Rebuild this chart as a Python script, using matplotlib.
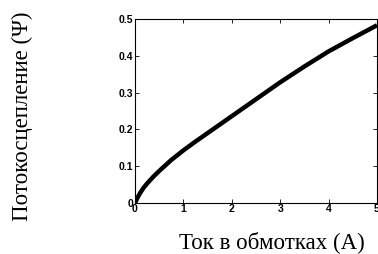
import matplotlib
matplotlib.use("Agg")
import matplotlib.pyplot as plt

current = [0, 0.05, 0.1, 0.175, 0.25, 0.375, 0.5, 0.75, 1, 1.25, 1.5, 2, 2.5, 3, 3.5, 4, 4.5, 5]
flux = [0, 0.014, 0.026, 0.041, 0.053, 0.071, 0.087, 0.117, 0.143, 0.167, 0.19, 0.236, 0.282,
        0.328, 0.371, 0.412, 0.448, 0.483]
xticks = [0, 1, 2, 3, 4, 5]
yticks = [0, 0.1, 0.2, 0.3, 0.4, 0.5]

fig = plt.figure(figsize=(3.78, 2.54), dpi=100)
ax = fig.add_axes([135 / 378, 51 / 254, 242 / 378, 184 / 254])
ax.plot(current, flux, color="black", linewidth=3.2, solid_capstyle="butt")
ax.set_xlim(0, 5)
ax.set_ylim(0, 0.5)
ax.set_xticks(xticks)
ax.set_yticks(yticks)
ax.set_xticklabels([str(t) for t in xticks])
ax.set_yticklabels(["0", "0.1", "0.2", "0.3", "0.4", "0.5"])
ax.tick_params(direction="in", top=True, right=True, length=3, width=0.6, pad=1)
for lab in ax.get_xticklabels() + ax.get_yticklabels():
    lab.set_fontfamily("Liberation Sans")
    lab.set_fontweight("bold")
    lab.set_fontsize(7.5)
for s in ax.spines.values():
    s.set_linewidth(0.8)

fig.text(272 / 378, 1 - 242 / 254, "Ток в обмотках (А)", family="Liberation Serif",
         fontsize=16.5, ha="center", va="center")
fig.text(22 / 378, 1 - 116 / 254, "Потокосцепление (Ψ)", family="Liberation Serif",
         fontsize=16.5, ha="center", va="center", rotation=90)

fig.savefig("out.png", dpi=100)
